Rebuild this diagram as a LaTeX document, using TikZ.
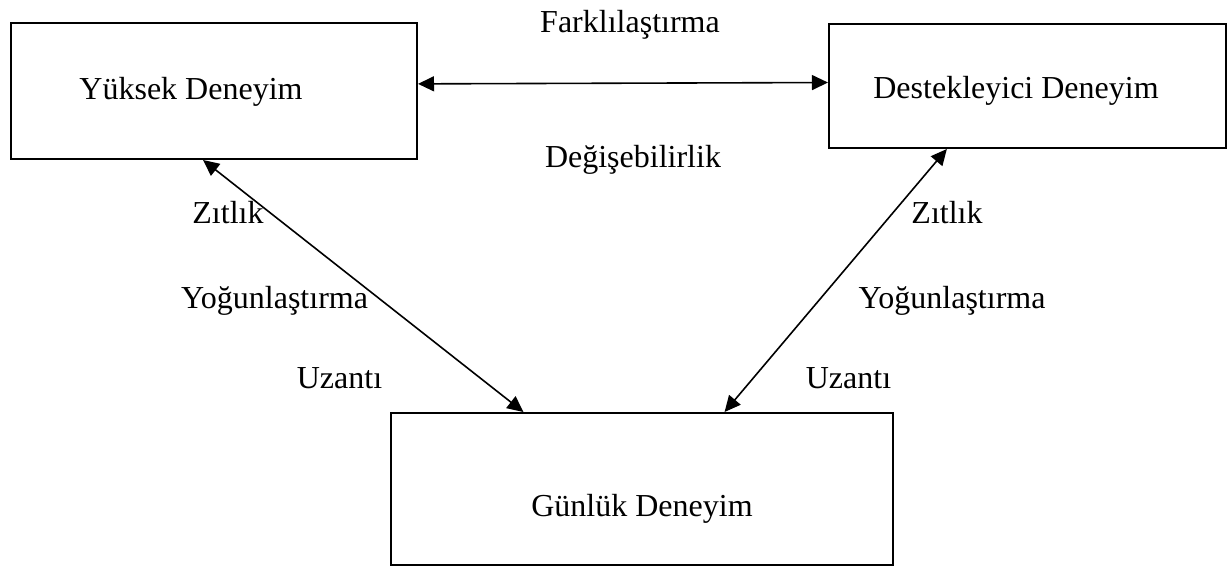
\documentclass[tikz,border=0pt]{standalone}
\usepackage{fontspec}
\setmainfont{Liberation Serif}
\usetikzlibrary{arrows.meta}
\begin{document}
\begin{tikzpicture}[x=0.375pt,y=-0.375pt,line width=0.6pt,>={Triangle[length=6pt,width=5.6pt]},font=\fontsize{12pt}{14pt}\selectfont,
	kutu/.style={draw,line width=0.75pt,inner sep=0pt},
	yazi/.style={anchor=base}]
				\useasboundingbox (0,0) rectangle (1228,567);
				% kutular
				\node[kutu,minimum width=152.25pt,minimum height=51pt] (yuksek) at (214,91) {};
				\node[kutu,minimum width=148.9pt,minimum height=46.5pt] (destek) at (1027.5,86) {};
				\node[kutu,minimum width=188.25pt,minimum height=57pt] (gunluk) at (642,489) {};
				\node[yazi] (yuksekyazi) at (191,100) {Yüksek Deneyim};
				\node[yazi] (destekyazi) at (1016,99) {Destekleyici Deneyim};
				\node[yazi] (gunlukyazi) at (642,516) {Günlük Deneyim};
				% oklar
				\draw[<->] (yuksek.2.26) -- (destek.179.1);
				\draw[<->] (yuksek.-99.2) -- (gunluk.147);
				\draw[<->] (destek.-142.7) -- (gunluk.43.9);
				% etiketler
				\node[yazi] (fark) at (630,33) {Farklılaştırma};
				\node[yazi] (degis) at (633,168) {Değişebilirlik};
				\node[yazi] (zitsol) at (228,224) {Zıtlık};
				\node[yazi] (yogunsol) at (274.5,308) {Yoğunlaştırma};
				\node[yazi] (uzantisol) at (339.5,388) {Uzantı};
				\node[yazi] (zitsag) at (947,224) {Zıtlık};
				\node[yazi] (yogunsag) at (952,308) {Yoğunlaştırma};
				\node[yazi] (uzantisag) at (848.5,388) {Uzantı};
			\end{tikzpicture}
\end{document}
